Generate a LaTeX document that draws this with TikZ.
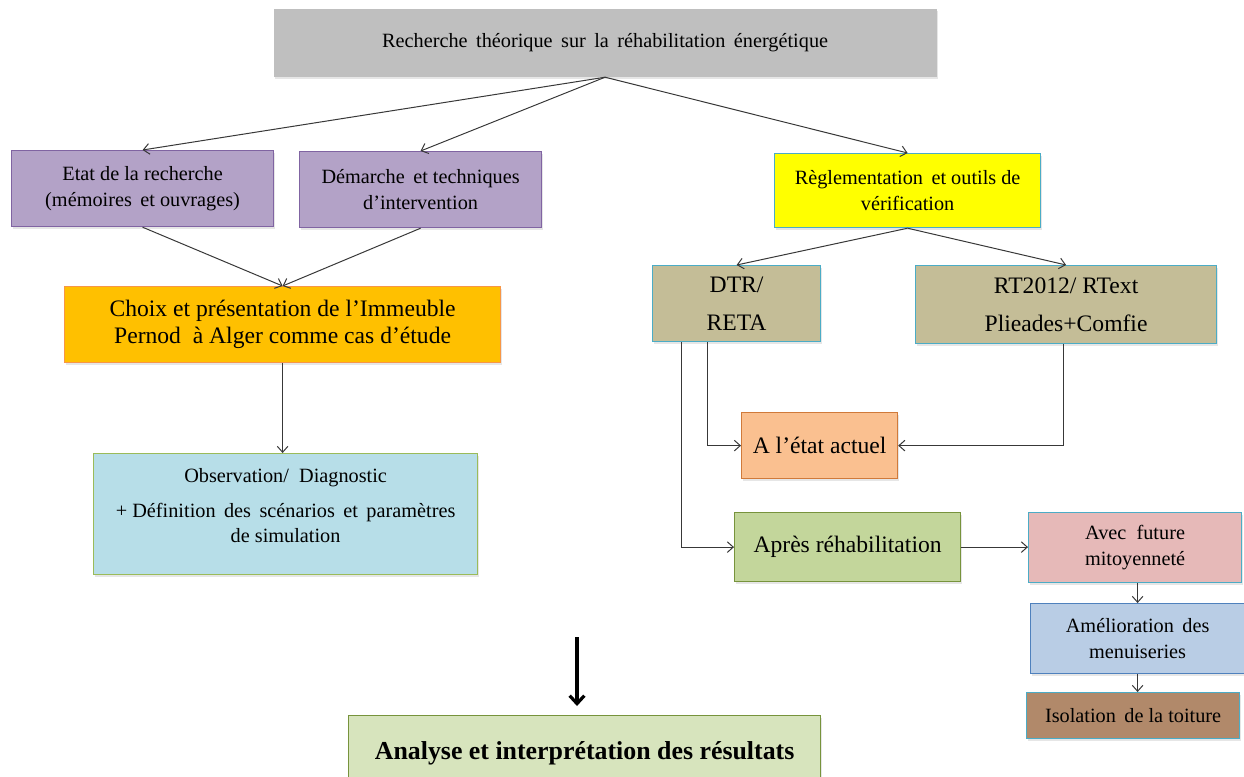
\documentclass[tikz,border=0pt]{standalone}
\usepackage{fontspec}
\setmainfont{Liberation Serif}
\usetikzlibrary{arrows.meta,shadows,calc}

\definecolor{topF}{HTML}{BFBFBF}
\definecolor{purF}{HTML}{B3A2C7}
\definecolor{purD}{HTML}{8064A2}
\definecolor{yelF}{HTML}{FFFF00}
\definecolor{bluD}{HTML}{4BACC6}
\definecolor{oraF}{HTML}{FFC000}
\definecolor{oraD}{HTML}{F79646}
\definecolor{obsF}{HTML}{B7DEE8}
\definecolor{obsD}{HTML}{9BBB59}
\definecolor{tanF}{HTML}{C4BD97}
\definecolor{actF}{HTML}{FAC090}
\definecolor{actD}{HTML}{D07A3A}
\definecolor{apF}{HTML}{C3D69B}
\definecolor{grD}{HTML}{77933C}
\definecolor{avF}{HTML}{E6B9B8}
\definecolor{amF}{HTML}{B9CDE5}
\definecolor{amD}{HTML}{4F81BD}
\definecolor{isF}{HTML}{B1896A}
\definecolor{anF}{HTML}{D7E4BD}

\begin{document}
\begin{tikzpicture}[x=0.75pt,y=-0.75pt,
  box/.style={draw, line width=0.9pt, align=center, inner sep=0pt, anchor=north west,
    drop shadow={shadow xshift=1.2pt,shadow yshift=-1.5pt,opacity=0.2}},
  small/.style={font=\fontsize{15.2}{19}\selectfont},
  big/.style={font=\fontsize{17.7}{20.5}\selectfont},
  dim/.style 2 args={minimum width=#1*0.75pt, minimum height=#2*0.75pt},
  link/.style={draw=black!78, line width=0.75pt, -{Straight Barb[length=4.5pt,width=8pt]}},
  heavy/.style={draw=black, line width=2.4pt, -{Straight Barb[length=6pt,width=11pt,line width=2.4pt]}},
]
\clip (0,0) rectangle (1244,776);

% first level
\node[box, small, draw=none, fill=topF, dim={663}{68}] (top) at (273,8)
  {Recherche\ \,théorique\ \,sur\ \,la\ \,réhabilitation\ \,énergétique};

% left branch
\node[box, small, fill=purF, draw=purD, dim={262}{76}] (etat) at (11,150)
  {Etat de la recherche\\(mémoires\ \,et ouvrages)};
\node[box, small, fill=purF, draw=purD, dim={242}{76}] (dem) at (299,151)
  {Démarche\ \,et techniques\\d’intervention};
\node[box, big, fill=oraF, draw=oraD, dim={436}{76}] (choix) at (64,286)
  {Choix et présentation de l’Immeuble\\Pernod\ \ à Alger comme cas d’étude};
\node[box, small, fill=obsF, draw=obsD, dim={384}{121}] (obs) at (93,453)
  {Observation/\ \ Diagnostic\\[7pt]+ Définition\ \,des\ \,scénarios\ \,et\ \,paramètres\\de simulation\\[-12pt]\strut};

% right branch
\node[box, small, fill=yelF, draw=bluD, dim={266}{74}] (regl) at (774,153)
  {Règlementation\ \,et outils de\\vérification};
\node[box, big, fill=tanF, draw=bluD, dim={168}{76}] (dtr) at (652,265)
  {DTR/\\[8pt]RETA};
\node[box, big, fill=tanF, draw=bluD, dim={301}{78}] (rt) at (915,265)
  {RT2012/ RText\\[8pt]Plieades+Comfie};
\node[box, big, fill=actF, draw=actD, dim={156}{66}] (actuel) at (741,412)
  {A l’état actuel};
\node[box, big, fill=apF, draw=grD, dim={226}{69}] (apres) at (734,512)
  {Après réhabilitation};
\node[box, small, fill=avF, draw=bluD, dim={213}{70}] (avec) at (1028,512)
  {Avec\ \ future\\mitoyenneté};
\node[box, small, fill=amF, draw=amD, dim={214}{70}] (amel) at (1030,603)
  {Amélioration\ \,des\\menuiseries};
\node[box, small, fill=isF, draw=bluD, dim={213}{46}] (iso) at (1026,692)
  {Isolation\ \,de la toiture};

% results
\node[box, font=\fontsize{19.4}{22}\selectfont\bfseries, fill=anF, draw=grD, dim={472}{76}, text height=13pt] (ana) at (348,715)
  {Analyse et interprétation des résultats};

% connectors
\draw[link] (top.south) -- (etat.north);
\draw[link] (top.south) -- (dem.north);
\draw[link] (top.south) -- (regl.north);
\draw[link] (etat.south) -- (choix.north);
\draw[link] (dem.south) -- (choix.north);
\draw[link] (choix.south) -- (choix.south |- obs.north);
\draw[link] (regl.south) -- (dtr.north);
\draw[link] (regl.south) -- (rt.north);
\draw[link] ($(dtr.south west)+(55,0)$) |- (actuel.west);
\draw[link] ($(rt.south west)+(148,0)$) |- (actuel.east);
\draw[link] ($(dtr.south west)+(29,0)$) |- (apres.west);
\draw[link] (apres.east) -- (apres.east -| avec.west);
\draw[link] (amel.north |- avec.south) -- (amel.north);
\draw[link] (amel.south) -- (amel.south |- iso.north);

\coordinate (bstart) at (577,637);
\draw[heavy] (bstart) -- ($(bstart |- ana.north)+(0,-9)$);
\end{tikzpicture}
\end{document}
